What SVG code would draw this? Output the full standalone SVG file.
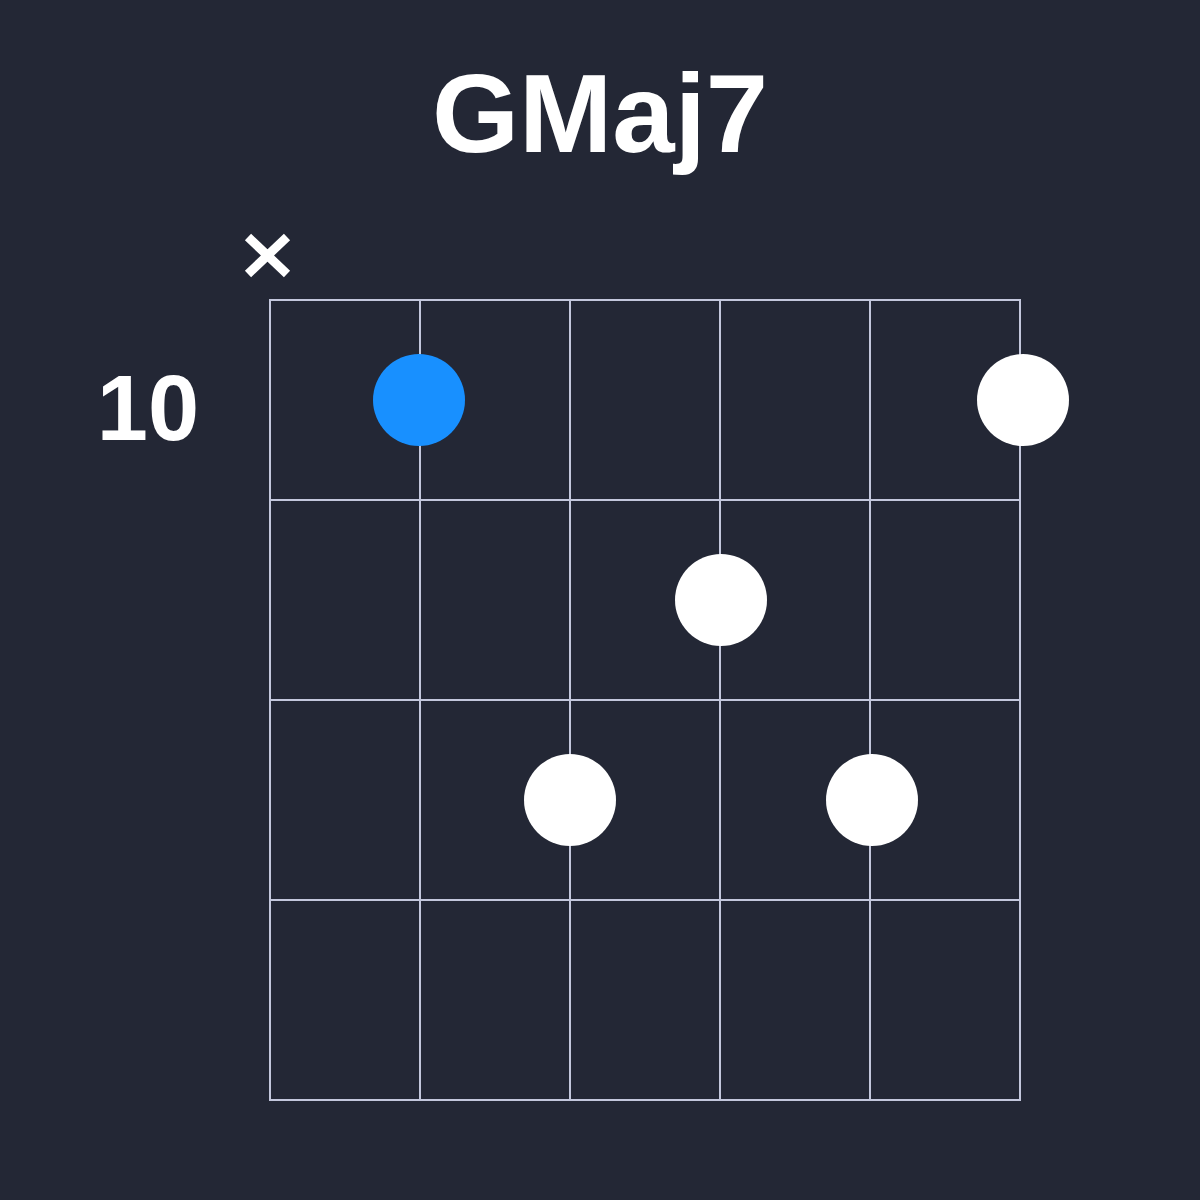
<svg xmlns="http://www.w3.org/2000/svg" width="1200" height="1200" viewBox="0 0 1200 1200">
<style>
.g{stroke:#c3c7dc;stroke-width:2;fill:none}
.t{font-family:"Liberation Sans",Arial,sans-serif;font-weight:bold;fill:#fff;text-anchor:middle}
.w{fill:#fff}
</style>
<rect width="1200" height="1200" fill="#232735"/>
<text class="t" x="600" y="152" font-size="112">GMaj7</text>
<text class="t" x="148" y="440" font-size="92">10</text>
<path d="M248 237L287 274M287 237L248 274" stroke="#fff" stroke-width="9"/>
<g class="g">
<rect x="270" y="300" width="750" height="800"/>
<path d="M420 300V1100M570 300V1100M720 300V1100M870 300V1100M270 500H1020M270 700H1020M270 900H1020"/>
</g>
<circle cx="419" cy="400" r="46" fill="#1890ff"/>
<circle class="w" cx="1023" cy="400" r="46"/>
<circle class="w" cx="721" cy="600" r="46"/>
<circle class="w" cx="570" cy="800" r="46"/>
<circle class="w" cx="872" cy="800" r="46"/>
</svg>
